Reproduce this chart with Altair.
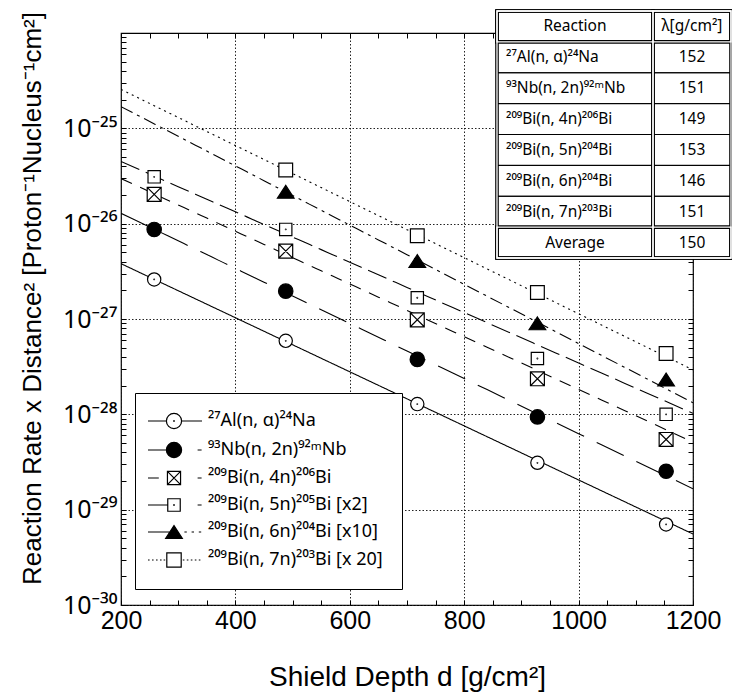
import json
import altair as alt
import pandas as pd

FONT = "Liberation Sans, Arial, Helvetica, sans-serif"
SUPFONT = "Noto Sans, DejaVu Sans, sans-serif"

# ---------------- data ----------------
depth = [258, 488, 718, 928, 1153]
series_names = [
    "²⁷Al(n, α)²⁴Na",
    "⁹³Nb(n, 2n)⁹²ᵐNb",
    "²⁰⁹Bi(n, 4n)²⁰⁶Bi",
    "²⁰⁹Bi(n, 5n)²⁰⁵Bi [x2]",
    "²⁰⁹Bi(n, 6n)²⁰⁴Bi [x10]",
    "²⁰⁹Bi(n, 7n)²⁰³Bi [x 20]",
]
al = [2.6e-27, 5.9e-28, 1.28e-28, 3.1e-29, 7.0e-30]
nb = [8.7e-27, 1.96e-27, 3.77e-28, 9.4e-29, 2.53e-29]
bi4 = [2.03e-26, 5.15e-27, 9.8e-28, 2.36e-28, 5.45e-29]
bi5 = [3.1e-26, 8.7e-27, 1.67e-27, 3.85e-28, 1.0e-28]
bi6 = [None, 2.16e-26, 4.05e-27, 9.0e-28, 2.32e-28]
bi7 = [None, 3.65e-26, 7.46e-27, 1.9e-27, 4.35e-28]

table_header = ["Reaction", "λ[g/cm²]"]
table_reactions = [
    "²⁷Al(n, α)²⁴Na",
    "⁹³Nb(n, 2n)⁹²ᵐNb",
    "²⁰⁹Bi(n, 4n)²⁰⁶Bi",
    "²⁰⁹Bi(n, 5n)²⁰⁴Bi",
    "²⁰⁹Bi(n, 6n)²⁰⁴Bi",
    "²⁰⁹Bi(n, 7n)²⁰³Bi",
]
table_lambda = ["152", "151", "149", "153", "146", "151"]
table_average = ["Average", "150"]

x_labels = [200, 400, 600, 800, 1000, 1200]
x_minor = list(range(200, 1201, 50))
x_minor_top = list(range(200, 851, 50))          # the inset table hides the rest
y_major = [1e-30, 1e-29, 1e-28, 1e-27, 1e-26, 1e-25]
y_labels = ["10⁻³⁰", "10⁻²⁹", "10⁻²⁸", "10⁻²⁷", "10⁻²⁶", "10⁻²⁵"]
y_minor = [float(f"{k}e{n}") for n in range(-30, -24) for k in range(1, 10)] + [1e-24]
y_minor_right = [v for v in y_minor if v <= 4e-27]  # the inset table hides the rest

# ---------------- styles ----------------
def circle(r):
    k = round(0.5523 * r, 4)
    return (f"M{r},0C{r},{k} {k},{r} 0,{r}C{-k},{r} {-r},{k} {-r},0"
            f"C{-r},{-k} {-k},{-r} 0,{-r}C{k},{-r} {r},{-k} {r},0Z")

def square(h):
    return f"M{-h},{-h}H{h}V{h}H{-h}Z"

def cross(h):
    return f"M{-h},{-h}L{h},{h}M{h},{-h}L{-h},{h}"

def triangle(w, h):
    return f"M0,{-h}L{w},{h}H{-w}Z"

def seg(a, b):
    return f"M{a},0H{b}"

DOT = circle(0.04)

marker_paths = [
    circle(0.83) + DOT,
    circle(0.9),
    square(0.87) + cross(0.87),
    square(0.77) + DOT,
    triangle(1.04, 0.8),
    square(0.86),
]
dots_left = "".join(seg(a, a + 0.2) for a in [-3.25, -2.75, -2.25, -1.75, -1.3])
dots_right = "".join(seg(a, a + 0.2) for a in [1.1, 1.6, 2.1, 2.6, 3.1])
legend_paths = [
    seg(-3.25, -0.95) + seg(0.95, 3.5) + circle(0.95) + DOT,
    seg(-3.25, -0.95) + seg(2.95, 3.45) + circle(0.95),
    seg(-3.25, -1.9) + seg(2.95, 3.45) + square(0.82) + cross(0.82),
    seg(-3.25, -0.78) + seg(2.95, 3.45) + square(0.78) + DOT,
    seg(-3.25, -0.52) + seg(1.3, 1.6) + seg(2.2, 2.5) + seg(3.1, 3.4) + triangle(1.04, 0.8),
    dots_left + dots_right + square(0.9),
]
fills = ["white", "black", "white", "white", "black", "white"]
strokes = ["black"] * 6
dashes = [[1, 0], [30, 14], [12, 9], [20, 7], [13, 5, 3, 5], [2, 4]]

# ---------------- tables for the library ----------------
rows = []
for name, ys in zip(series_names, [al, nb, bi4, bi5, bi6, bi7]):
    for d, v in zip(depth, ys):
        if v is not None:
            rows.append({"series": name, "depth": d, "value": v})
df = pd.DataFrame(rows)

xs = alt.Scale(domain=[200, 1200], zero=False, nice=False)
ys = alt.Scale(type="log", domain=[1e-30, 1e-24], nice=False)

y_label_expr = json.dumps(y_labels, ensure_ascii=False) + "[round(log(datum.value)/LN10)+30]"

grid_style = dict(grid=True, gridDash=[1.5, 2], gridColor="#222222", gridWidth=1)

x_axis_main = alt.Axis(orient="bottom", values=x_labels, format="d", labelFontSize=25,
                       labelPadding=3, labelFlush=False, labelOverlap=False,
                       ticks=False, tickSize=0, domain=False, **grid_style,
                       title="Shield Depth d [g/cm²]", titleFontSize=28,
                       titleX=286, titleY=80, titleAlign="center", titleBaseline="alphabetic")
y_axis_main = alt.Axis(orient="left", values=y_major, labelExpr=y_label_expr, labelFontSize=25,
                       labelFont=SUPFONT,
                       labelPadding=4, labelFlush=False, labelOverlap=False,
                       ticks=False, tickSize=0, domain=False, **grid_style,
                       title="Reaction Rate x Distance² [Proton⁻¹Nucleus⁻¹cm²]", titleFontSize=26,
                       titleX=-81, titleY=265, titleAngle=270, titleAlign="center",
                       titleBaseline="alphabetic")

def tick_axis(orient, vals):
    # inward ticks: the axis is moved 5 px inside the frame
    return alt.Axis(orient=orient, values=vals, labels=False, domain=False, grid=False,
                    ticks=True, tickSize=5, tickColor="black", tickWidth=1, offset=-5,
                    title=None, zindex=1)

lines = alt.Chart(df).transform_regression(
    "depth", "value", groupby=["series"], method="exp", extent=[200, 1200]
).mark_line(color="black", strokeWidth=1.1, clip=True).encode(
    x=alt.X("depth:Q", scale=xs, axis=x_axis_main),
    y=alt.Y("value:Q", scale=ys, axis=y_axis_main),
    strokeDash=alt.StrokeDash("series:N", scale=alt.Scale(domain=series_names, range=dashes), legend=None),
)

points = alt.Chart(df).mark_point(filled=True, stroke="black", strokeWidth=1.2, size=256,
                                  opacity=1, clip=True).encode(
    x=alt.X("depth:Q", scale=xs, axis=tick_axis("bottom", x_minor)),
    y=alt.Y("value:Q", scale=ys, axis=tick_axis("left", y_minor)),
    shape=alt.Shape("series:N", scale=alt.Scale(domain=series_names, range=marker_paths), legend=None),
    fill=alt.Fill("series:N", scale=alt.Scale(domain=series_names, range=fills), legend=None),
)

leg = alt.Legend(title=None, orient="none", legendX=14, legendY=360, fillColor="white",
                 strokeColor="black", padding=19, labelFont=SUPFONT, labelFontSize=18,
                 labelColor="black", symbolSize=256, symbolStrokeWidth=1.2,
                 symbolStrokeColor="black", rowPadding=9, symbolOffset=11, labelOffset=25,
                 labelLimit=0)

legend_layer = alt.Chart(df).transform_filter("false").mark_point(
    filled=True, strokeWidth=1.2, size=256, opacity=1
).encode(
    x=alt.X("depth:Q", scale=xs, axis=tick_axis("top", x_minor_top)),
    y=alt.Y("value:Q", scale=ys, axis=tick_axis("right", y_minor_right)),
    shape=alt.Shape("series:N", scale=alt.Scale(domain=series_names, range=legend_paths), legend=leg),
    fill=alt.Fill("series:N", scale=alt.Scale(domain=series_names, range=fills), legend=leg),
    stroke=alt.Stroke("series:N", scale=alt.Scale(domain=series_names, range=strokes), legend=leg),
)

# ---------------- inset table ----------------
tx = alt.Scale(domain=[0, 3], range=[376, 610])
ty = alt.Scale(domain=[0, 8], range=[-22, 225])
col_edges = [0, 2, 3]

base_df = pd.DataFrame([{"x": 0, "x2": 3, "y": 0, "y2": 8}])
single_df = pd.DataFrame([{"x": col_edges[c], "x2": col_edges[c + 1], "y": r, "y2": r + 1}
                          for r in range(1, 7) for c in range(2)])
double_df = pd.DataFrame([
    {"x": 0, "x2": 2, "y": 0, "y2": 8},
    {"x": 2, "x2": 3, "y": 0, "y2": 8},
    {"x": 0, "x2": 3, "y": 0, "y2": 1},
    {"x": 0, "x2": 3, "y": 7, "y2": 8},
])

def tab_rect(data, **mk):
    return alt.Chart(data).mark_rect(**mk).encode(
        x=alt.X("x:Q", scale=tx, axis=None), x2="x2:Q",
        y=alt.Y("y:Q", scale=ty, axis=None), y2="y2:Q",
    )

t_base = tab_rect(base_df, fill="white", strokeWidth=0)
t_single = tab_rect(single_df, fill="white", fillOpacity=0, stroke="black", strokeWidth=1)
t_dbl_b = tab_rect(double_df, fill="white", fillOpacity=0, stroke="black", strokeWidth=3.6)
t_dbl_w = tab_rect(double_df, fill="white", fillOpacity=0, stroke="white", strokeWidth=1.3)

center_rows = [{"x": 1.0, "y": 0.5, "label": table_header[0]},
               {"x": 2.5, "y": 0.5, "label": table_header[1]}]
center_rows += [{"x": 2.5, "y": i + 1.5, "label": v} for i, v in enumerate(table_lambda)]
center_rows += [{"x": 1.0, "y": 7.5, "label": table_average[0]},
                {"x": 2.5, "y": 7.5, "label": table_average[1]}]
left_rows = [{"x": 0.0, "y": i + 1.5, "label": v} for i, v in enumerate(table_reactions)]

def tab_text(data, align, dx):
    return alt.Chart(pd.DataFrame(data)).mark_text(
        font=SUPFONT, fontSize=15.5, color="black", baseline="middle", align=align, dx=dx
    ).encode(
        x=alt.X("x:Q", scale=tx, axis=None),
        y=alt.Y("y:Q", scale=ty, axis=None),
        text="label:N",
    )

t_text_c = tab_text(center_rows, "center", 0)
t_text_l = tab_text(left_rows, "left", 9)

chart = alt.layer(
    lines, points, legend_layer, t_base, t_single, t_dbl_b, t_dbl_w, t_text_c, t_text_l
).resolve_scale(
    x="independent", y="independent", shape="independent", fill="independent",
    stroke="independent"
).resolve_axis(
    x="independent", y="independent"
).properties(
    width=572, height=572,
    autosize=alt.AutoSizeParams(type="none"),
    padding={"left": 121, "top": 33, "right": 39, "bottom": 91},
    background="white",
).configure_view(
    stroke="black", strokeWidth=1.2
).configure_axis(
    labelFont=FONT, titleFont=FONT, labelColor="black", titleColor="black",
    titleFontWeight="normal"
)

chart.save("out.html", embed_options={"renderer": "svg", "actions": False})
